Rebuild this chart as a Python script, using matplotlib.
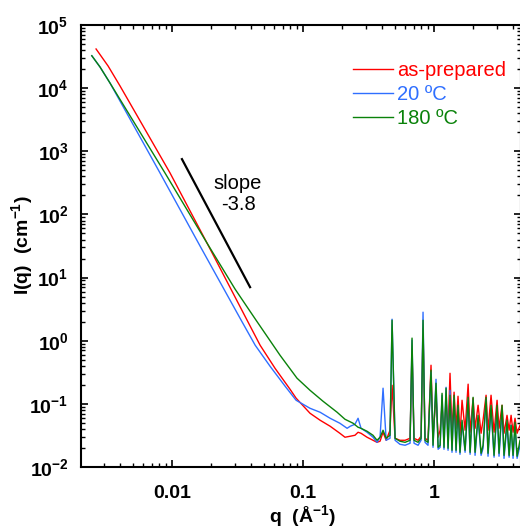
import matplotlib
matplotlib.use("Agg")
import matplotlib.pyplot as plt
import matplotlib.ticker as mticker
import numpy as np

plt.rcParams["font.family"] = ["Liberation Sans", "DejaVu Sans"]
plt.rcParams["mathtext.fontset"] = "custom"
plt.rcParams["mathtext.rm"] = "Liberation Sans"
plt.rcParams["mathtext.bf"] = "Liberation Sans:bold"
plt.rcParams["mathtext.it"] = "Liberation Sans:italic"
plt.rcParams["mathtext.default"] = "bf"

# ── data ──────────────────────────────────────────────────
q_red_low = [0.00263, 0.00325, 0.00401, 0.00601, 0.00966, 0.0185, 0.0374, 0.0470, 0.0611,
             0.0796, 0.0885, 0.113, 0.135, 0.161, 0.191, 0.209, 0.229, 0.249, 0.263]
I_red_low = [41700, 22400, 10800, 2510, 452, 35.1, 2.11, 0.849, 0.366,
             0.170, 0.123, 0.0710, 0.0550, 0.0442, 0.0342, 0.0296, 0.0307, 0.0318, 0.0355]

q_blue_low = [0.00244, 0.00282, 0.00336, 0.00810, 0.01637, 0.0337, 0.0431, 0.0560, 0.0730,
              0.0885, 0.113, 0.135, 0.161, 0.191, 0.217, 0.229, 0.249, 0.263]
I_blue_low = [32600, 21600, 12050, 452, 31.5, 2.11, 0.849, 0.394, 0.190,
              0.114, 0.0851, 0.0736, 0.0591, 0.0493, 0.0410, 0.0442, 0.0475, 0.0591]

q_green_low = [0.00244, 0.00282, 0.00336, 0.00884, 0.0185, 0.0303, 0.0438, 0.0667, 0.0899,
               0.113, 0.142, 0.182, 0.209, 0.241, 0.263]
I_green_low = [32600, 21600, 12050, 452, 35.1, 6.55, 2.11, 0.589, 0.255,
               0.164, 0.110, 0.0736, 0.0570, 0.0493, 0.0426]

# wide-angle region, common q grid
q_hi = [0.277, 0.308, 0.342, 0.367, 0.387, 0.408, 0.431, 0.461, 0.478, 0.504,
        0.549, 0.601, 0.656, 0.679, 0.703, 0.755, 0.796, 0.824, 0.853, 0.899,
        0.948, 0.982, 1.035, 1.074, 1.112, 1.151, 1.191, 1.235, 1.279, 1.324,
        1.371, 1.422, 1.472, 1.524, 1.578, 1.636, 1.725, 1.820, 1.884, 1.986,
        2.056, 2.168, 2.286, 2.366, 2.495, 2.582, 2.723, 2.871, 3.027, 3.133,
        3.304, 3.420, 3.606, 3.741, 3.873, 4.009, 4.150, 4.305, 4.529]
I_red_hi = [0.0342, 0.0296, 0.0265, 0.0246, 0.0256, 0.0355, 0.0265, 0.0382, 0.197, 0.0285,
            0.0265, 0.0265, 0.0285, 0.707, 0.0285, 0.0265, 0.0307, 1.58, 0.0285, 0.0265,
            0.409, 0.0307, 0.137, 0.0296, 0.0382, 0.0951, 0.0318, 0.114, 0.0382, 0.305,
            0.0355, 0.153, 0.0410, 0.132, 0.0318, 0.114, 0.0382, 0.205, 0.0355, 0.123,
            0.0410, 0.0951, 0.0342, 0.0550, 0.137, 0.0382, 0.137, 0.0355, 0.114, 0.0410,
            0.0951, 0.0342, 0.0659, 0.0382, 0.0659, 0.0355, 0.0591, 0.0342, 0.0458]
I_blue_hi = [0.0410, 0.0355, 0.0296, 0.0246, 0.0296, 0.177, 0.0265, 0.0285, 2.19, 0.0265,
             0.0229, 0.0221, 0.0238, 1.02, 0.0238, 0.0221, 0.0265, 2.83, 0.0246, 0.0221,
             0.317, 0.0205, 0.245, 0.0191, 0.0205, 0.137, 0.0191, 0.183, 0.0184, 0.164,
             0.0171, 0.123, 0.0171, 0.0851, 0.0159, 0.0511, 0.0171, 0.114, 0.0159, 0.114,
             0.0153, 0.0591, 0.0153, 0.0198, 0.114, 0.0148, 0.0851, 0.0143, 0.0792, 0.0148,
             0.0792, 0.0137, 0.0458, 0.0143, 0.0458, 0.0137, 0.0410, 0.0137, 0.0221]
I_green_hi = [0.0410, 0.0368, 0.0318, 0.0265, 0.0296, 0.0382, 0.0285, 0.0318, 2.11, 0.0285,
              0.0256, 0.0246, 0.0265, 1.10, 0.0265, 0.0246, 0.0285, 2.11, 0.0265, 0.0246,
              0.341, 0.0221, 0.212, 0.0205, 0.0221, 0.147, 0.0205, 0.177, 0.0198, 0.137,
              0.0184, 0.137, 0.0184, 0.0951, 0.0171, 0.0550, 0.0184, 0.127, 0.0171, 0.127,
              0.0171, 0.0659, 0.0165, 0.0221, 0.127, 0.0165, 0.0951, 0.0153, 0.0951, 0.0165,
              0.0951, 0.0153, 0.0550, 0.0153, 0.0458, 0.0153, 0.0511, 0.0148, 0.0265]

labels = ["as-prepared", "20 \u00baC", "180 \u00baC"]
colors = ["#ff0000", "#2f6fff", "#0a820a"]

slope_q = [0.0119, 0.0394]
slope_I = [751, 7.05]

# ── figure ────────────────────────────────────────────────
fig = plt.figure(figsize=(5.2, 5.26), dpi=100)
ax = fig.add_axes([81 / 520, 59 / 526, 440 / 520, 442 / 526])

series = [
    (q_red_low + q_hi, I_red_low + I_red_hi),
    (q_blue_low + q_hi, I_blue_low + I_blue_hi),
    (q_green_low + q_hi, I_green_low + I_green_hi),
]
for (q, I), lab, c in zip(series, labels, colors):
    ax.plot(q, I, color=c, lw=1.0, label=lab)

ax.plot(slope_q, slope_I, color="black", lw=1.6)
ax.text(0.0319, 210, "slope\n-3.8", ha="center", va="center",
        fontsize=14.5, linespacing=1.1)

ax.set_xscale("log")
ax.set_yscale("log")
ax.set_xlim(0.002018, 4.61)
ax.set_ylim(1e-2, 1e5)

ax.xaxis.set_major_locator(mticker.FixedLocator([0.01, 0.1, 1]))
ax.xaxis.set_major_formatter(mticker.FixedFormatter(["0.01", "0.1", "1"]))
ax.xaxis.set_minor_locator(mticker.LogLocator(base=10, subs=np.arange(2, 10)))
ax.xaxis.set_minor_formatter(mticker.NullFormatter())
ax.yaxis.set_major_locator(mticker.LogLocator(base=10, numticks=10))
ax.yaxis.set_major_formatter(mticker.FuncFormatter(lambda v, _: r"$10^{%d}$" % round(np.log10(v))))
ax.yaxis.set_minor_locator(mticker.LogLocator(base=10, subs=np.arange(2, 10), numticks=10))
ax.yaxis.set_minor_formatter(mticker.NullFormatter())

ax.tick_params(which="both", direction="in", top=True, right=True)
ax.tick_params(which="major", length=5, width=1.2)
ax.tick_params(which="minor", length=3, width=1.0)
ax.tick_params(axis="x", which="major", pad=13, labelsize=14)
ax.tick_params(axis="y", which="major", pad=9, labelsize=14)
for lab in ax.get_xticklabels() + ax.get_yticklabels():
    lab.set_fontweight("bold")
for sp in ax.spines.values():
    sp.set_linewidth(1.5)

fig.text(22 / 520, 1 - 245 / 526, r"I(q)  (cm$^{-1}$)", rotation=90,
         ha="center", va="center", fontsize=14, fontweight="bold")
# x label sits partly below the lower edge, as in the reference
fig.text(303 / 520, 1 - 516 / 526, r"q  ($\AA^{-1}$)", ha="center", va="center",
         fontsize=14, fontweight="bold")

ax.legend(loc="upper left", bbox_to_anchor=(353 / 520, 1 - 61 / 526),
          bbox_transform=fig.transFigure, frameon=False, borderpad=0,
          borderaxespad=0, handlelength=2.0, handletextpad=0.2,
          labelspacing=0.25, fontsize=14.5, labelcolor="linecolor")

fig.savefig("out.png", dpi=100)
